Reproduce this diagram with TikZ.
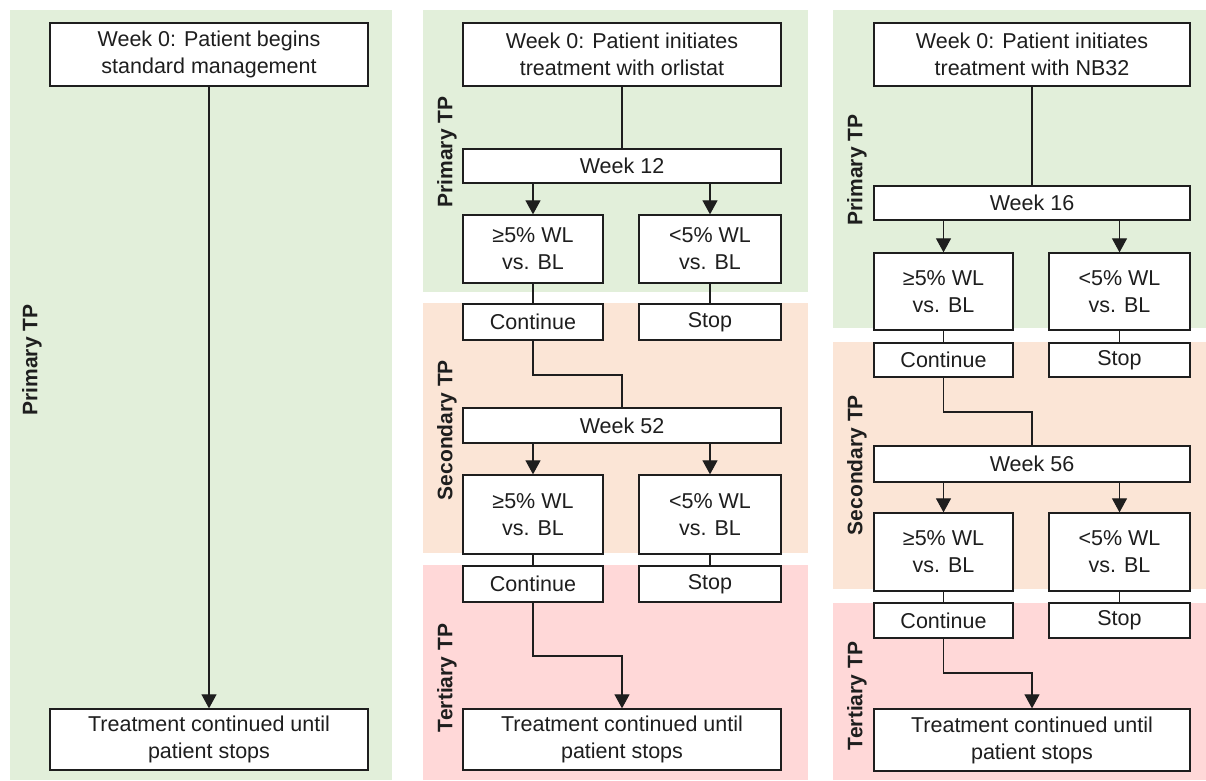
\documentclass[tikz,border=0pt]{standalone}
\usepackage{fontspec}
\setmainfont{Liberation Sans}
\usetikzlibrary{arrows.meta}
\definecolor{gbg}{HTML}{E2EFDA}
\definecolor{pbg}{HTML}{FBE5D6}
\definecolor{rbg}{HTML}{FFD8D8}
\definecolor{ink}{HTML}{1E1E1E}
\tikzset{
  box/.style={draw=ink, line width=1.3pt, fill=white, text=ink, align=center, inner sep=0pt,
    font=\fontsize{21.5}{27}\selectfont},
  wide/.style={box, minimum width=318pt},
  half/.style={box, minimum width=140pt},
  conn/.style={draw=ink, line width=1.1pt},
  arr/.style={conn, -{Triangle[width=15pt,length=14pt]}},
  tp/.style={rotate=90, text=ink, font=\fontsize{21}{25}\selectfont\bfseries}
}
\begin{document}
\begin{tikzpicture}[x=1pt,y=-1pt]
\path[use as bounding box, fill=white] (0,0) rectangle (1206,780);
% backgrounds
\fill[gbg] (10,10) rectangle (392,780);
\fill[gbg] (423,10) rectangle (808,292);
\fill[pbg] (423,303) rectangle (808,553);
\fill[rbg] (423,565) rectangle (808,780);
\fill[gbg] (833,10) rectangle (1206,328);
\fill[pbg] (833,342) rectangle (1206,589);
\fill[rbg] (833,603) rectangle (1206,780);
% labels
\node[tp] (l1) at (32,360) {Primary TP};
\node[tp] (l2) at (447,152) {Primary TP};
\node[tp] (l3) at (447,430) {Secondary TP};
\node[tp] (l4) at (447,678) {Tertiary TP};
\node[tp] (l5) at (857,170) {Primary TP};
\node[tp] (l6) at (857,465) {Secondary TP};
\node[tp] (l7) at (857,696) {Tertiary TP};
% panel 1
\node[wide, minimum height=63pt] (a1) at (209,54.5) {Week 0: Patient begins\\standard management};
\node[wide, minimum height=61pt] (a2) at (209,739.5) {Treatment continued until\\patient stops};
\draw[arr] (a1.south) -- (a2.north);
% panel 2
\node[wide, minimum height=63pt] (b0) at (622,54.5) {Week 0: Patient initiates\\treatment with orlistat};
\node[wide, minimum height=34pt] (b1) at (622,166) {Week 12};
\node[half, minimum height=68pt] (b2) at (533,249) {≥5\% WL\\vs. BL};
\node[half, minimum height=68pt, minimum width=142pt] (b3) at (710,249) {<5\% WL\\vs. BL};
\node[half, minimum height=36pt] (b4) at (533,322) {Continue};
\node[half, minimum height=36pt, minimum width=142pt] (b5) at (710,322) {Stop};
\node[wide, minimum height=35pt] (b6) at (622,425.5) {Week 52};
\node[half, minimum height=79pt] (b7) at (533,514.5) {≥5\% WL\\vs. BL};
\node[half, minimum height=79pt, minimum width=142pt] (b8) at (710,514.5) {<5\% WL\\vs. BL};
\node[half, minimum height=36pt] (b9) at (533,584) {Continue};
\node[half, minimum height=36pt, minimum width=142pt] (b10) at (710,584) {Stop};
\node[wide, minimum height=61pt] (b11) at (622,739.5) {Treatment continued until\\patient stops};
\coordinate (bm1) at (622,375);
\coordinate (bm2) at (622,656);
\draw[conn] (b0.south) -- (b1.north);
\draw[arr] (b1.south -| b2.north) -- (b2.north);
\draw[arr] (b1.south -| b3.north) -- (b3.north);
\draw[conn] (b2.south) -- (b4.north);
\draw[conn] (b3.south) -- (b5.north);
\draw[conn] (b4.south) |- (bm1) -- (b6.north);
\draw[arr] (b6.south -| b7.north) -- (b7.north);
\draw[arr] (b6.south -| b8.north) -- (b8.north);
\draw[conn] (b7.south) -- (b9.north);
\draw[conn] (b8.south) -- (b10.north);
\draw[arr] (b9.south) |- (bm2) -- (b11.north);
% panel 3
\node[wide, minimum height=63pt, minimum width=316pt] (c0) at (1032,54.5) {Week 0: Patient initiates\\treatment with NB32};
\node[wide, minimum height=34pt, minimum width=316pt] (c1) at (1032,203) {Week 16};
\node[half, minimum height=77pt, minimum width=139pt] (c2) at (943.5,291.5) {≥5\% WL\\vs. BL};
\node[half, minimum height=77pt, minimum width=141pt] (c3) at (1119.5,291.5) {<5\% WL\\vs. BL};
\node[half, minimum height=34pt, minimum width=139pt] (c4) at (943.5,360) {Continue};
\node[half, minimum height=34pt, minimum width=141pt] (c5) at (1119.5,360) {Stop};
\node[wide, minimum height=36pt, minimum width=316pt] (c6) at (1032,464) {Week 56};
\node[half, minimum height=78pt, minimum width=139pt] (c7) at (943.5,552) {≥5\% WL\\vs. BL};
\node[half, minimum height=78pt, minimum width=141pt] (c8) at (1119.5,552) {<5\% WL\\vs. BL};
\node[half, minimum height=35pt, minimum width=139pt] (c9) at (943.5,620.5) {Continue};
\node[half, minimum height=35pt, minimum width=141pt] (c10) at (1119.5,620.5) {Stop};
\node[wide, minimum height=62pt, minimum width=316pt] (c11) at (1032,740) {Treatment continued until\\patient stops};
\coordinate (cm1) at (1032,412);
\coordinate (cm2) at (1032,673);
\draw[conn] (c0.south) -- (c1.north);
\draw[arr] (c1.south -| c2.north) -- (c2.north);
\draw[arr] (c1.south -| c3.north) -- (c3.north);
\draw[conn] (c2.south) -- (c4.north);
\draw[conn] (c3.south) -- (c5.north);
\draw[conn] (c4.south) |- (cm1) -- (c6.north);
\draw[arr] (c6.south -| c7.north) -- (c7.north);
\draw[arr] (c6.south -| c8.north) -- (c8.north);
\draw[conn] (c7.south) -- (c9.north);
\draw[conn] (c8.south) -- (c10.north);
\draw[arr] (c9.south) |- (cm2) -- (c11.north);
\end{tikzpicture}
\end{document}
